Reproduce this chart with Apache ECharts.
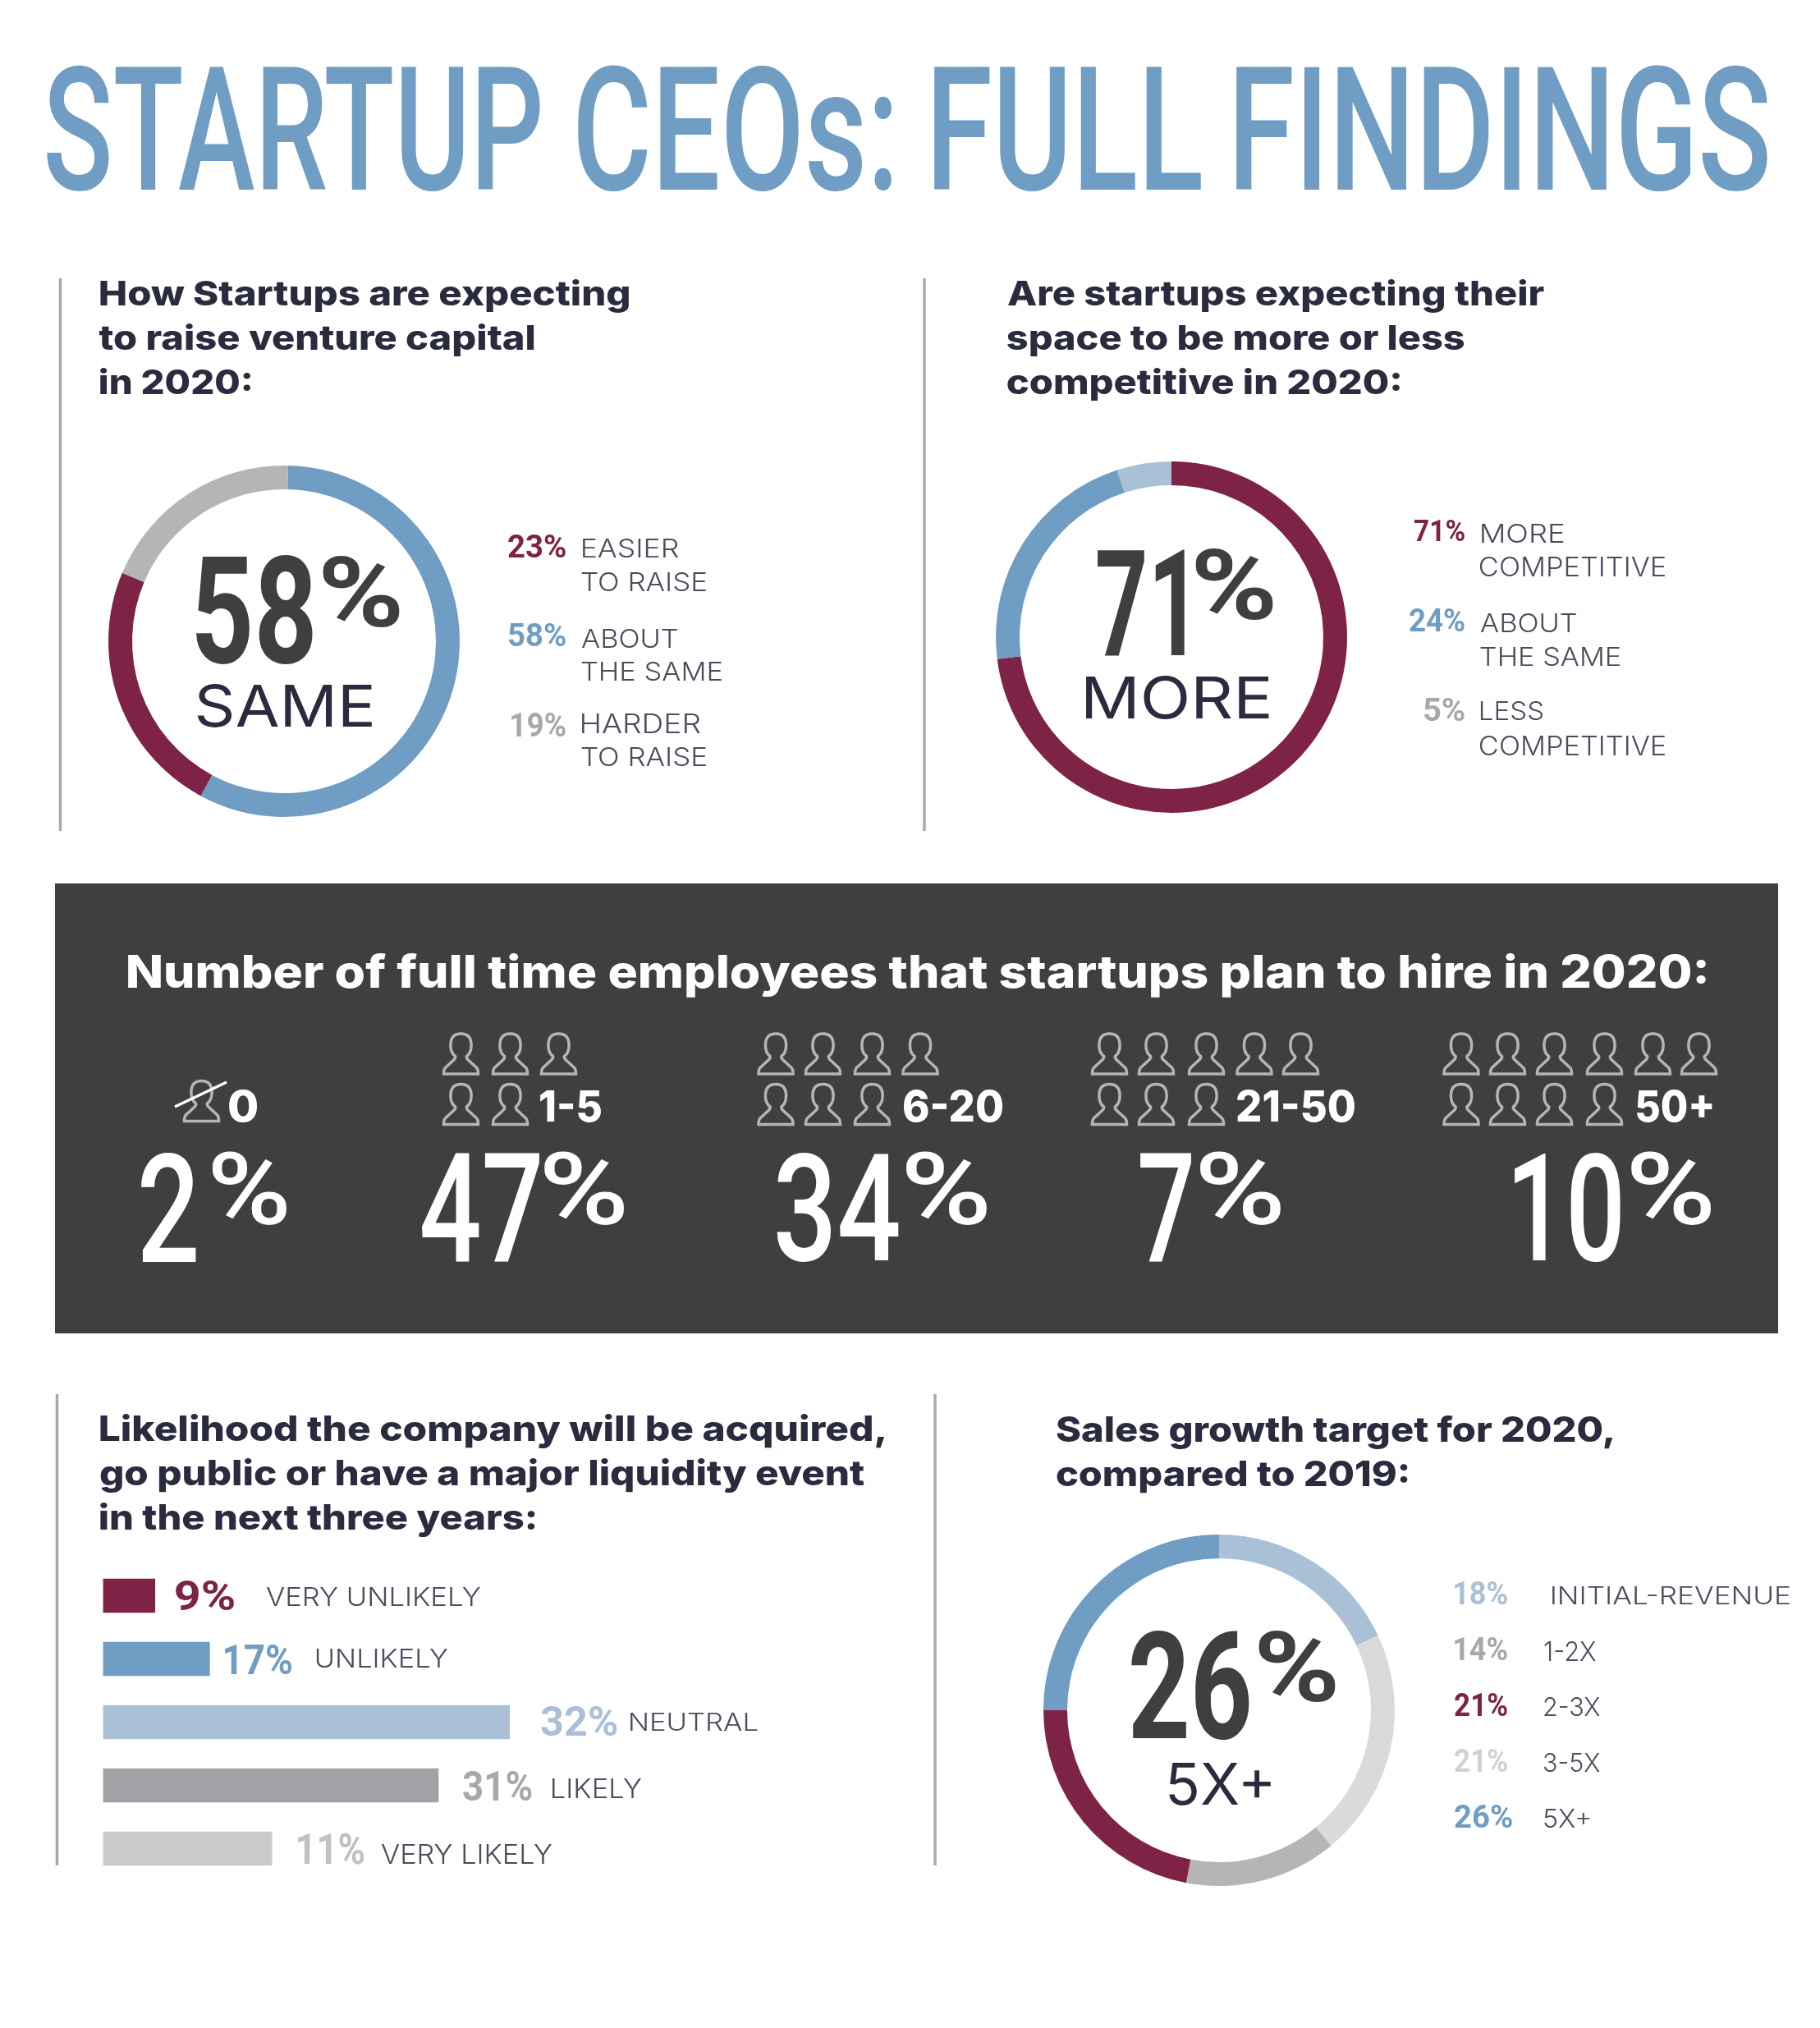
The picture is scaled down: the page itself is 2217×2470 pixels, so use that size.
<!DOCTYPE html>
<html>
<head>
    <title>Startup CEOs: Full Findings</title>
    <script src="https://cdn.jsdelivr.net/npm/echarts@6/dist/echarts.min.js"></script>
    <style>
        html, body { margin: 0; padding: 0; background: #fff; }
    </style>
</head>
<body>
    <div id="myChart" style="width: 2217px;height:2470px;"></div>
    <script>
        // values
        const raiseValues = [58, 23, 19];
        const raiseLabels = ['ABOUT THE SAME', 'EASIER TO RAISE', 'HARDER TO RAISE'];
        const spaceValues = [71, 24, 5];
        const spaceLabels = ['MORE COMPETITIVE', 'ABOUT THE SAME', 'LESS COMPETITIVE'];
        const hireRanges = ['0', '1-5', '6-20', '21-50', '50+'];
        const hireValues = [2, 47, 34, 7, 10];
        const likelyLabels = ['VERY UNLIKELY', 'UNLIKELY', 'NEUTRAL', 'LIKELY', 'VERY LIKELY'];
        const likelyValues = [9, 17, 32, 31, 11];
        const growthLabels = ['INITIAL-REVENUE', '3-5X', '1-2X', '2-3X', '5X+'];
        const growthValues = [18, 21, 14, 21, 26];

        // the marks in the picture don't quite follow the printed numbers,
        // these are the shares as drawn (rings in %, bars in units where the 32% bar is 32)
        const raiseRing = [57.5, 23.5, 19];
        const spaceRing = [73, 22, 5];
        const growthRing = [18, 21, 14, 22, 25];
        const likelyBarLengths = [4.1, 8.4, 32, 26.4, 13.3];

        const MAROON = '#7f2346', BLUE = '#6f9dc3', LIGHT = '#aac0d6', GREY = '#b5b5b7', PALE = '#d9dadb';
        const INK = '#2a2b3f', LABEL = '#4b4c5d', DARK = '#3f3f41', PCT_GREY = '#a7a8aa';

        const HEAD = 'Inter', CONDENSED = 'Roboto', BODY = 'Inter';

        const measure = document.createElement('canvas').getContext('2d');
        const graphics = [];

        // text fitted to the box it takes in the picture (font is squeezed sideways to fit)
        function fitText(str, x0, x1, top, bottom, family, weight, color, capMode) {
            measure.textBaseline = 'middle';
            measure.font = weight + ' 200px "' + family + '"';
            let ref = measure.measureText(capMode ? 'H' : str);
            let size = (bottom - top) / (ref.actualBoundingBoxAscent + ref.actualBoundingBoxDescent) * 200;
            // measure again at the real size, Inter changes shape with size
            measure.font = weight + ' ' + size + 'px "' + family + '"';
            ref = measure.measureText(capMode ? 'H' : str);
            size = size * (bottom - top) / (ref.actualBoundingBoxAscent + ref.actualBoundingBoxDescent);
            measure.font = weight + ' ' + size + 'px "' + family + '"';
            ref = measure.measureText(capMode ? 'H' : str);
            const ink = measure.measureText(str);
            const scaleX = (x1 - x0) / (ink.actualBoundingBoxLeft + ink.actualBoundingBoxRight);
            graphics.push({
                type: 'text',
                x: x0 + ink.actualBoundingBoxLeft * scaleX,
                y: bottom - ref.actualBoundingBoxDescent,
                scaleX: scaleX,
                z: 10,
                silent: true,
                style: {
                    text: str,
                    x: 0,
                    y: 0,
                    align: 'left',
                    verticalAlign: 'middle',
                    fontFamily: family,
                    fontWeight: weight,
                    fontSize: size,
                    fill: color
                }
            });
        }
        function heading(str, x0, x1, top, bottom, color) {
            fitText(str, x0, x1, top, bottom, HEAD, 800, color || INK, true);
        }
        function label(str, x0, x1, top, bottom) {
            fitText(str, x0, x1, top, bottom, BODY, 300, LABEL);
        }
        function pct(v, x0, x1, top, bottom, color) {
            fitText(v + '%', x0, x1, top, bottom, CONDENSED, 700, color);
        }
        // big number with a raised percent sign
        function bigPct(v, box, pbox, color, weight) {
            fitText(String(v), box[0], box[1], box[2], box[3], CONDENSED, weight, color);
            fitText('%', pbox[0], pbox[1], pbox[2], pbox[3], CONDENSED, weight, color);
        }

        // rules and dark panel
        [[73.5, 339, 1012], [1126, 339, 1012], [69.5, 1698, 2272], [1139, 1698, 2272]].forEach(function (r) {
            graphics.push({
                type: 'line', z: 1, silent: true,
                shape: { x1: r[0], y1: r[1], x2: r[0], y2: r[2] },
                style: { stroke: '#a9aaac', lineWidth: 3.5 }
            });
        });
        graphics.push({
            type: 'rect', z: 0, silent: true,
            shape: { x: 67, y: 1076, width: 2099, height: 548 },
            style: { fill: DARK }
        });
        graphics.push({
            type: 'line', z: 10, silent: true,
            shape: { x1: 213, y1: 1348, x2: 276, y2: 1318 },
            style: { stroke: '#ffffff', lineWidth: 3.5 }
        });

        // title, word by word so the gaps sit where they do in the picture
        fitText('STARTUP', 57, 658, 81, 231, CONDENSED, 500, BLUE, true);
        fitText('CEOs:', 704, 1086, 81, 231, CONDENSED, 500, BLUE, true);
        fitText('FULL', 1138, 1463, 81, 231, CONDENSED, 500, BLUE, true);
        fitText('FINDINGS', 1506, 2153, 81, 231, CONDENSED, 500, BLUE, true);

        // top left
        heading('How Startups are expecting', 122, 766, 342, 372);
        heading('to raise venture capital', 120.5, 651, 396, 426);
        heading('in 2020:', 122, 306, 450, 480);
        bigPct(raiseValues[0], [239, 381, 676, 809], [393, 487, 676, 764], DARK, 700);
        fitText('SAME', 241, 453, 833, 886, BODY, 400, INK);
        pct(raiseValues[1], 619, 689, 652, 679, MAROON);
        label('EASIER', 709, 827, 656, 679);
        label('TO RAISE', 708, 860, 697, 721);
        pct(raiseValues[0], 619, 689, 760, 787, BLUE);
        label('ABOUT', 708, 826, 765, 789);
        label('THE SAME', 708, 879, 806, 830);
        pct(raiseValues[2], 623, 689, 869, 897, PCT_GREY);
        label('HARDER', 709, 853, 869, 893);
        label('TO RAISE', 708, 860, 910, 934);

        // top right
        heading('Are startups expecting their', 1227, 1881, 342, 372);
        heading('space to be more or less', 1227, 1784, 396, 426);
        heading('competitive in 2020:', 1227, 1706, 450, 480);
        bigPct(spaceValues[0], [1337, 1443, 669, 799], [1456, 1551, 667, 755], DARK, 700);
        fitText('MORE', 1323, 1546, 823, 876, BODY, 400, INK);
        pct(spaceValues[0], 1723, 1784, 633, 659, MAROON);
        label('MORE', 1804, 1905, 638, 661);
        label('COMPETITIVE', 1803, 2028, 678, 702);
        pct(spaceValues[1], 1717, 1784, 742, 769, BLUE);
        label('ABOUT', 1803, 1921, 746, 770);
        label('THE SAME', 1803, 1974, 788, 811);
        pct(spaceValues[2], 1734, 1784, 851, 878, PCT_GREY);
        label('LESS', 1804, 1880, 854, 878);
        label('COMPETITIVE', 1803, 2028, 896, 920);

        // panel
        heading('Number of full time employees that startups plan to hire in 2020:', 156, 2078, 1163, 1203, '#ffffff');
        const rangeBoxes = [[279, 313], [658, 732], [1101, 1221], [1507, 1650], [1993, 2086]];
        hireRanges.forEach(function (r, i) {
            fitText(r, rangeBoxes[i][0], rangeBoxes[i][1], 1328, 1366, HEAD, 800, '#ffffff', true);
        });
        const hireNumBoxes = [[172, 239], [514, 657], [946, 1095], [1389, 1451], [1845, 1974]];
        const hirePctBoxes = [[258, 349], [662, 760], [1103, 1202], [1461, 1560], [1986, 2084]];
        hireValues.forEach(function (v, i) {
            bigPct(v, [hireNumBoxes[i][0], hireNumBoxes[i][1], 1404, 1537],
                [hirePctBoxes[i][0], hirePctBoxes[i][1], 1402, 1492], '#ffffff', 500);
        });

        // bottom left
        heading('Likelihood the company will be acquired,', 122, 1078, 1724, 1755);
        heading('go public or have a major liquidity event', 122, 1053, 1778, 1809);
        heading('in the next three years:', 122, 652, 1832, 1863);
        const likelyColors = [MAROON, BLUE, LIGHT, '#a1a2a5', '#c9cacc'];
        const likelyPctBoxes = [[214, 285, 1923, 1961], [274, 356, 2001, 2039], [659, 752, 2076, 2114], [564, 648, 2155, 2193], [363, 443, 2232, 2271]];
        const likelyLabelBoxes = [[324, 585, 1933, 1957], [385, 545, 2008, 2032], [767, 923, 2085, 2108], [673, 781, 2166, 2190], [464, 672, 2246, 2270]];
        const likelyPctColors = [MAROON, BLUE, LIGHT, PCT_GREY, '#c0c1c3'];
        likelyLabels.forEach(function (name, i) {
            const p = likelyPctBoxes[i], l = likelyLabelBoxes[i];
            pct(likelyValues[i], p[0], p[1], p[2], p[3], likelyPctColors[i]);
            label(name, l[0], l[1], l[2], l[3]);
        });

        // bottom right
        heading('Sales growth target for 2020,', 1287, 1965, 1725, 1756);
        heading('compared to 2019:', 1287, 1715, 1779, 1810);
        bigPct(growthValues[4], [1378, 1522, 1986, 2119], [1533, 1627, 1986, 2073], DARK, 700);
        fitText(growthLabels[4], 1424, 1548, 2147, 2199, BODY, 400, INK);
        // legend order differs from the ring order
        const growthLegend = [0, 2, 3, 1, 4];
        const growthLegendColors = [LIGHT, PCT_GREY, MAROON, '#d0d1d3', BLUE];
        const growthPctBoxes = [[1772, 1836, 1927, 1954], [1772, 1836, 1995, 2022], [1772, 1836, 2063, 2090], [1772, 1836, 2130, 2158], [1772, 1842, 2198, 2226]];
        const growthLabelBoxes = [[1890, 2180, 1931, 1954], [1881, 1944, 1999, 2023], [1881, 1949, 2067, 2090], [1881, 1949, 2135, 2158], [1881, 1937, 2203, 2226]];
        growthLegend.forEach(function (idx, i) {
            const p = growthPctBoxes[i], l = growthLabelBoxes[i];
            pct(growthValues[idx], p[0], p[1], p[2], p[3], growthLegendColors[i]);
            label(growthLabels[idx], l[0], l[1], l[2], l[3]);
        });

        // person icons, top left corner of each one
        const personSpots = [[223, 1315]];
        [
            [[539, 599, 658], [539, 599]],
            [[922.5, 980, 1040, 1098.5], [922.5, 980, 1040]],
            [[1329, 1386, 1447, 1505.5, 1562], [1329, 1386, 1447]],
            [[1757.5, 1814, 1871, 1932, 1991, 2047], [1757.5, 1814, 1871, 1932]]
        ].forEach(function (rows) {
            rows[0].forEach(function (x) { personSpots.push([x, 1257.5]); });
            rows[1].forEach(function (x) { personSpots.push([x, 1319]); });
        });
        const personPath = 'M22.5 0C13 0 9 6 9 15C9 22 11 26 15 29C16 31 15 32 13 34L2 44C0.5 45.5 0 47 0 52L45 52C45 47 44.5 45.5 43 44L32 34C30 32 29 31 30 29C34 26 36 22 36 15C36 6 32 0 22.5 0Z';

        function ring(name, center, values, labels, colors, startAngle) {
            return {
                name: name,
                type: 'pie',
                center: center,
                radius: [185, 214],
                startAngle: startAngle,
                silent: true,
                label: { show: false },
                labelLine: { show: false },
                data: values.map(function (v, i) {
                    return { name: labels[i], value: v, itemStyle: { color: colors[i] } };
                })
            };
        }

        var myChart = echarts.init(document.getElementById('myChart'));
        myChart.setOption({
            animation: false,
            backgroundColor: '#ffffff',
            graphic: { elements: graphics },
            grid: { left: 125.6, top: 1905, width: 495.4, height: 385, containLabel: false },
            xAxis: { type: 'value', min: 0, max: 32, show: false },
            yAxis: { type: 'category', data: likelyLabels, inverse: true, show: false },
            series: [
                ring('raise', [346, 781], raiseRing, raiseLabels, [BLUE, MAROON, GREY], 88.7),
                ring('space', [1427, 776], spaceRing, spaceLabels, [MAROON, BLUE, LIGHT], 90),
                ring('growth', [1485, 2083], growthRing, growthLabels, [LIGHT, PALE, GREY, MAROON, BLUE], 90),
                {
                    type: 'bar',
                    barWidth: 41.5,
                    silent: true,
                    data: likelyBarLengths.map(function (v, i) {
                        return { value: v, itemStyle: { color: likelyColors[i] } };
                    })
                },
                {
                    type: 'custom',
                    coordinateSystem: 'none',
                    silent: true,
                    z: 5,
                    data: personSpots,
                    renderItem: function (params, api) {
                        return {
                            type: 'path',
                            shape: {
                                pathData: personPath,
                                x: api.value(0) + 1.5,
                                y: api.value(1) + 1.5,
                                width: 42,
                                height: 49,
                                layout: 'cover'
                            },
                            style: { fill: 'none', stroke: GREY, lineWidth: 3.5 }
                        };
                    }
                }
            ]
        });
    </script>
</body>
</html>
